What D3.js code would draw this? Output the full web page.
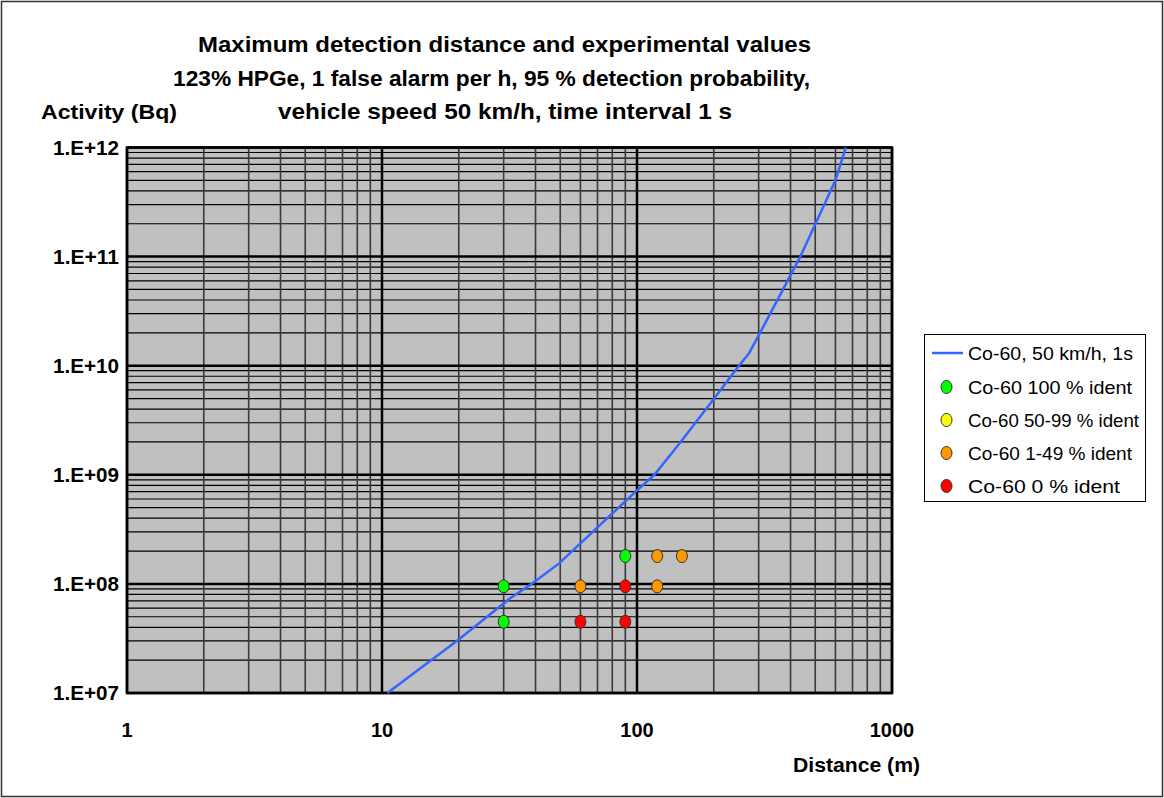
<!DOCTYPE html>
<html>
<head>
<meta charset="utf-8">
<script src="https://cdn.jsdelivr.net/npm/d3@7"></script>
<style>
  body { margin: 0; background: #fff; }
  svg { display: block; font-family: "Liberation Sans", Arial, sans-serif; }
</style>
</head>
<body>
<div id="chart"></div>
<script>
// detection limit curve (distance m, activity Bq)
var curveDist = [10.5, 20, 31.6, 38.6, 49.6, 70, 100, 117, 147, 200, 251, 275, 324, 437, 498, 600, 659];
var curveAct = [1e7, 3.1e7, 7.3e7, 1e8, 1.55e8, 3.3e8, 7.2e8, 1e9, 1.95e9, 4.95e9, 1e10, 1.3e10, 2.66e10, 1e11, 1.94e11, 5e11, 1e12];

// experimental points
var greenDist = [30, 30, 90];
var greenAct = [9.5e7, 4.5e7, 1.8e8];
var yellowDist = [];
var yellowAct = [];
var orangeDist = [60, 120, 150, 120];
var orangeAct = [9.5e7, 1.8e8, 1.8e8, 9.5e7];
var redDist = [90, 60, 90];
var redAct = [9.5e7, 4.5e7, 4.5e7];

var xTicks = [1, 10, 100, 1000];
var yTicks = [1e7, 1e8, 1e9, 1e10, 1e11, 1e12];
var yTickLabels = ["1.E+07", "1.E+08", "1.E+09", "1.E+10", "1.E+11", "1.E+12"];

var titleLines = [
  "Maximum detection distance and experimental values",
  "123% HPGe, 1 false alarm per h, 95 % detection probability,",
  "vehicle speed 50 km/h, time interval 1 s"
];
var legendLabels = ["Co-60, 50 km/h, 1s", "Co-60 100 % ident", "Co-60 50-99 % ident", "Co-60 1-49 % ident", "Co-60 0 % ident"];
var legendColors = ["#3366ff", "#00ff00", "#ffff00", "#ff9900", "#ff0000"];

var width = 1164, height = 798;
var svg = d3.select("#chart").append("svg")
  .attr("width", width)
  .attr("height", height);

svg.append("rect")
  .attr("x", 1.5).attr("y", 1.5)
  .attr("width", width - 3).attr("height", height - 3)
  .style("fill", "#fff")
  .style("stroke", "#333")
  .style("stroke-width", 1.5);

var x = d3.scaleLog().domain([1, 1000]).range([127, 892]);
var y = d3.scaleLog().domain([1e7, 1e12]).range([693, 147.5]);

var plot = svg.append("g");

plot.append("rect")
  .attr("x", x(1)).attr("y", y(1e12))
  .attr("width", x(1000) - x(1))
  .attr("height", y(1e7) - y(1e12))
  .style("fill", "#c0c0c0");

// minor grid
var minorX = [], minorY = [];
[1, 10, 100].forEach(function(p) {
  for (var k = 2; k <= 9; k++) minorX.push(p * k);
});
[1e7, 1e8, 1e9, 1e10, 1e11].forEach(function(p) {
  for (var k = 2; k <= 9; k++) minorY.push(p * k);
});

plot.selectAll(".minor-y")
  .data(minorY)
  .enter().append("line")
  .attr("x1", x(1)).attr("x2", x(1000))
  .attr("y1", function(d) { return y(d); })
  .attr("y2", function(d) { return y(d); })
  .style("stroke", "#000")
  .style("stroke-width", 1.2);

plot.selectAll(".minor-x")
  .data(minorX)
  .enter().append("line")
  .attr("y1", y(1e7)).attr("y2", y(1e12))
  .attr("x1", function(d) { return x(d); })
  .attr("x2", function(d) { return x(d); })
  .style("stroke", "#3a3a3a")
  .style("stroke-width", 1.6);

// major grid
plot.selectAll(".major-y")
  .data(yTicks)
  .enter().append("line")
  .attr("x1", x(1)).attr("x2", x(1000))
  .attr("y1", function(d) { return y(d); })
  .attr("y2", function(d) { return y(d); })
  .style("stroke", "#000")
  .style("stroke-width", 2.5);

plot.selectAll(".major-x")
  .data(xTicks)
  .enter().append("line")
  .attr("y1", y(1e7)).attr("y2", y(1e12))
  .attr("x1", function(d) { return x(d); })
  .attr("x2", function(d) { return x(d); })
  .style("stroke", "#000")
  .style("stroke-width", 2.5);

plot.append("rect")
  .attr("x", x(1)).attr("y", y(1e12))
  .attr("width", x(1000) - x(1))
  .attr("height", y(1e7) - y(1e12))
  .style("fill", "none")
  .style("stroke", "#000")
  .style("stroke-width", 2.5);

// curve
var curve = curveDist.map(function(d, i) { return [d, curveAct[i]]; });
plot.append("path")
  .datum(curve)
  .attr("d", d3.line()
    .x(function(d) { return x(d[0]); })
    .y(function(d) { return y(d[1]); }))
  .style("fill", "none")
  .style("stroke", "#3366ff")
  .style("stroke-width", 2.5);

// markers
function addPoints(dist, act, color) {
  plot.selectAll(null)
    .data(dist.map(function(d, i) { return [d, act[i]]; }))
    .enter().append("ellipse")
    .attr("cx", function(d) { return x(d[0]); })
    .attr("cy", function(d) { return y(d[1]); })
    .attr("rx", 5.5)
    .attr("ry", 6.5)
    .style("fill", color)
    .style("stroke", "#333")
    .style("stroke-width", 1);
}
addPoints(greenDist, greenAct, legendColors[1]);
addPoints(yellowDist, yellowAct, legendColors[2]);
addPoints(orangeDist, orangeAct, legendColors[3]);
addPoints(redDist, redAct, legendColors[4]);

// axis labels
svg.selectAll(".ylab")
  .data(yTicks)
  .enter().append("text")
  .attr("x", 53)
  .attr("y", function(d) { return y(d) + 7; })
  .attr("textLength", 66)
  .attr("lengthAdjust", "spacingAndGlyphs")
  .style("font-size", "20px")
  .style("font-weight", "bold")
  .text(function(d, i) { return yTickLabels[i]; });

svg.selectAll(".xlab")
  .data(xTicks)
  .enter().append("text")
  .attr("x", function(d) { return x(d); })
  .attr("y", 737)
  .attr("text-anchor", "middle")
  .style("font-size", "20px")
  .style("font-weight", "bold")
  .text(function(d) { return d; });

svg.append("text")
  .attr("x", 793).attr("y", 772)
  .attr("textLength", 127)
  .attr("lengthAdjust", "spacingAndGlyphs")
  .style("font-size", "21px")
  .style("font-weight", "bold")
  .text("Distance (m)");

svg.append("text")
  .attr("x", 41).attr("y", 119)
  .attr("textLength", 136)
  .attr("lengthAdjust", "spacingAndGlyphs")
  .style("font-size", "21px")
  .style("font-weight", "bold")
  .text("Activity (Bq)");

// title
var titleX = [198, 173, 278];
var titleW = [613, 637, 454];
var titleY = [52, 86, 119];
svg.selectAll(".title")
  .data(titleLines)
  .enter().append("text")
  .attr("x", function(d, i) { return titleX[i]; })
  .attr("y", function(d, i) { return titleY[i]; })
  .attr("textLength", function(d, i) { return titleW[i]; })
  .attr("lengthAdjust", "spacingAndGlyphs")
  .style("font-size", "22px")
  .style("font-weight", "bold")
  .text(function(d) { return d; });

// legend
var legend = svg.append("g");
legend.append("rect")
  .attr("x", 924.5).attr("y", 334.5)
  .attr("width", 221).attr("height", 167)
  .style("fill", "#fff")
  .style("stroke", "#000")
  .style("stroke-width", 1);

var legendY = [353, 387, 420, 453, 486];
var legendW = [165, 164, 171, 164, 152];
legendLabels.forEach(function(lbl, i) {
  if (i == 0) {
    legend.append("line")
      .attr("x1", 932).attr("x2", 963)
      .attr("y1", legendY[i]).attr("y2", legendY[i])
      .style("stroke", legendColors[i])
      .style("stroke-width", 2.5);
  } else {
    legend.append("ellipse")
      .attr("cx", 946.5).attr("cy", legendY[i])
      .attr("rx", 5.5).attr("ry", 6.5)
      .style("fill", legendColors[i])
      .style("stroke", "#333")
      .style("stroke-width", 1);
  }
  legend.append("text")
    .attr("x", 968)
    .attr("y", legendY[i] + 6.5)
    .attr("textLength", legendW[i])
    .attr("lengthAdjust", "spacingAndGlyphs")
    .style("font-size", "18.5px")
    .text(lbl);
});
</script>
</body>
</html>
